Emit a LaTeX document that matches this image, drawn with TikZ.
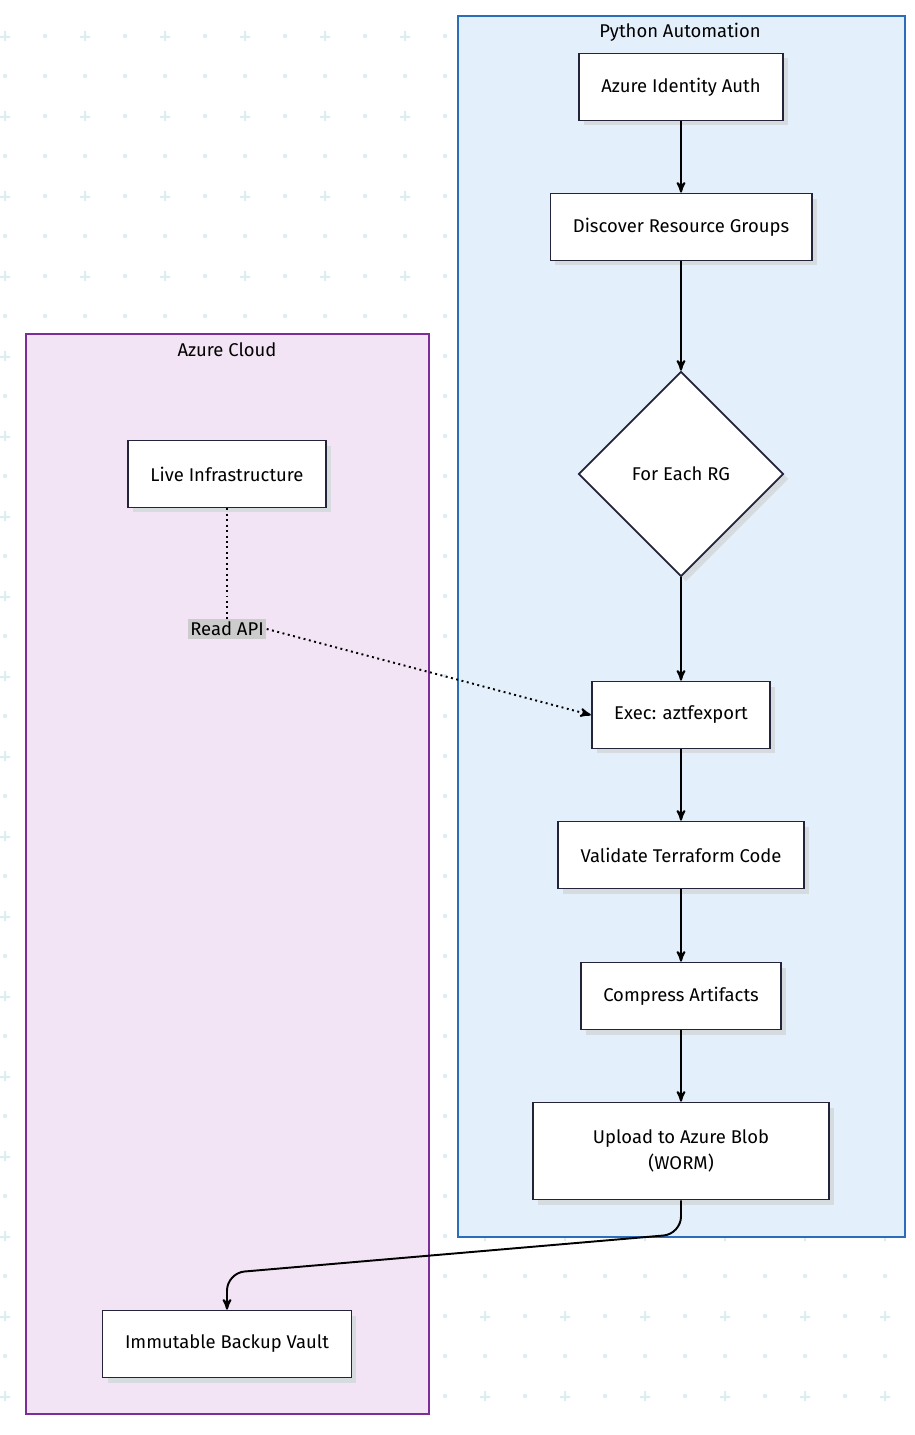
\documentclass[tikz,border=0pt]{standalone}
\usepackage{fontspec}
\setmainfont{Fira Sans}
\usetikzlibrary{arrows,shapes.geometric,shadows}
\definecolor{dotc}{HTML}{DDEEF2}
\definecolor{pyfill}{HTML}{E3F0FC}
\definecolor{pyline}{HTML}{2A6EBB}
\definecolor{azfill}{HTML}{F2E4F4}
\definecolor{azline}{HTML}{7B2D9B}
\definecolor{boxline}{HTML}{23233A}
\definecolor{shadowc}{HTML}{D6DBE0}
\begin{document}
\begin{tikzpicture}[x=0.02cm,y=-0.02cm,>=stealth',
  step node/.style={draw=boxline,line width=1pt,fill=white,
    font=\fontsize{10.5}{15}\selectfont,align=center,
    minimum height=1.34cm,inner xsep=0.45cm,
    drop shadow={shadow xshift=0.1cm,shadow yshift=-0.1cm,fill=shadowc,opacity=1}},
  group box/.style={line width=1pt},
  group title/.style={font=\fontsize{10.5}{13}\selectfont},
  flow/.style={->,line width=1.1pt}]
  \useasboundingbox (0,0) rectangle (915,1435);
  % background pattern
  \foreach \i in {0,...,22}{
    \foreach \j in {0,...,35}{
      \pgfmathsetmacro{\px}{5+40*\i}
      \pgfmathsetmacro{\py}{-4+40*\j}
      \ifodd\j
        \ifodd\i \fill[dotc] (\px,\py) circle (2.2);
        \else \fill[dotc] (\px-5,\py) rectangle (\px+5,\py+2) (\px-1,\py-5) rectangle (\px+1,\py+5);
        \fi
      \else
        \fill[dotc] (\px,\py) circle (2.2);
      \fi
    }}
  % groups
  \draw[group box,fill=azfill,draw=azline] (26,334) rectangle (429,1414);
  \node[group title] (azt) at (227,350) {Azure Cloud};
  \draw[group box,fill=pyfill,draw=pyline] (458,16) rectangle (905,1237);
  \node[group title] (pyt) at (680,32) {Python Automation};
  % steps
  \node[step node] (auth)     at (681,87)   {Azure Identity Auth};
  \node[step node] (discover) at (681,227)  {Discover Resource Groups};
  \node[step node,diamond,shape aspect=1,minimum width=4.1cm,minimum height=4.1cm,inner sep=0pt] (each) at (681,474) {For Each RG};
  \node[step node] (exec)     at (681,715)  {Exec: aztfexport};
  \node[step node] (validate) at (681,855)  {Validate Terraform Code};
  \node[step node] (compress) at (681,996)  {Compress Artifacts};
  \node[step node,minimum height=1.94cm,inner xsep=1.2cm] (upload) at (681,1151) {Upload to Azure Blob\\(WORM)};
  \node[step node] (live)     at (227,474)  {Live Infrastructure};
  \node[step node] (vault)    at (227,1344) {Immutable Backup Vault};
  \node[fill=black!20,inner sep=1.5pt,font=\fontsize{10.5}{13}\selectfont] (api) at (227,629) {Read API};
  \coordinate (bend2) at (227,1273);
  % connectors
  \draw[flow] (auth) -- (discover);
  \draw[flow] (discover) -- (each);
  \draw[flow] (each) -- (exec);
  \draw[flow] (exec) -- (validate);
  \draw[flow] (validate) -- (compress);
  \draw[flow] (compress) -- (upload);
  \draw[line width=1.1pt,dotted] (live) -- (api);
  \draw[flow,dotted] (api.east) -- (exec.west);
  \draw[flow,rounded corners=10] (upload.south) -- (681,1234) -- (bend2) -- (vault.north);
\end{tikzpicture}
\end{document}
